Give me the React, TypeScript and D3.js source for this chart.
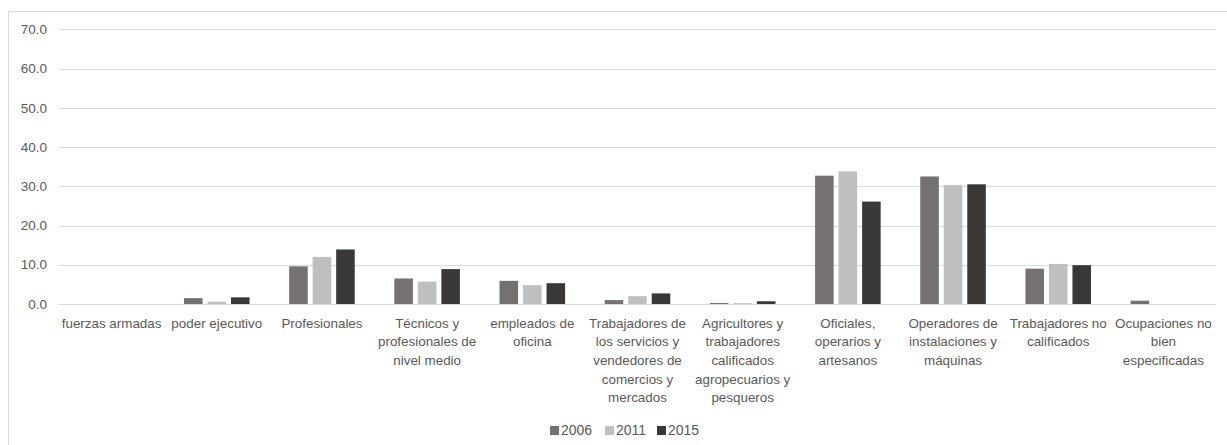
import React from "react";
import * as d3 from "d3";

const categories: string[][] = [
  ["fuerzas armadas"],
  ["poder ejecutivo"],
  ["Profesionales"],
  ["Técnicos y", "profesionales de", "nivel medio"],
  ["empleados de", "oficina"],
  ["Trabajadores de", "los servicios y", "vendedores de", "comercios y", "mercados"],
  ["Agricultores y", "trabajadores", "calificados", "agropecuarios y", "pesqueros"],
  ["Oficiales,", "operarios y", "artesanos"],
  ["Operadores de", "instalaciones y", "máquinas"],
  ["Trabajadores no", "calificados"],
  ["Ocupaciones no", "bien", "especificadas"],
];

const years = ["2006", "2011", "2015"];
const values2006 = [0, 1.5, 9.6, 6.5, 5.9, 1.0, 0.25, 32.7, 32.5, 9.0, 0.85];
const values2011 = [0, 0.6, 12.0, 5.7, 4.8, 2.0, 0.2, 33.8, 30.3, 10.2, 0];
const values2015 = [0, 1.7, 13.9, 8.9, 5.3, 2.7, 0.7, 26.1, 30.5, 9.9, 0];
const yTicks = [0, 10, 20, 30, 40, 50, 60, 70];
const colors = ["#767171", "#BFBFBF", "#3B3838"];

const W = 1227;
const H = 445;
const FONT = "'Liberation Sans', Arial, sans-serif";
const TEXT = "#595959";

export default function App() {
  const series = [values2006, values2011, values2015];
  const catKeys = categories.map((c) => c.join(" "));
  const x0 = d3.scaleBand<string>().domain(catKeys).range([59, 1216]).padding(0);
  const bw = x0.bandwidth();
  const gap = 19.8;
  const x1 = d3.scaleBand<string>().domain(years).range([gap, bw - gap]).paddingInner(0.21);
  const y = d3.scaleLinear().domain([0, 70]).range([304, 29.3]);

  const legendX = [550, 605, 657];

  return (
    <svg
      width={W}
      height={H}
      style={{ position: "absolute", left: 0, top: 0, background: "#fff" }}
      fontFamily={FONT}
    >
      <rect x={8.5} y={11.5} width={1240} height={460} fill="#fff" stroke="#D9D9D9" strokeWidth={1} />
      {yTicks.map((t) => (
        <g key={t}>
          <line x1={59} x2={1216} y1={Math.round(y(t)) + 0.5} y2={Math.round(y(t)) + 0.5} stroke="#D9D9D9" strokeWidth={1} />
          <text x={47} y={y(t)} dy="0.35em" textAnchor="end" fontSize={13.5} fill={TEXT}>
            {t.toFixed(1)}
          </text>
        </g>
      ))}
      {series.map((vals, si) =>
        vals.map((v, ci) => {
          const xx = (x0(catKeys[ci]) as number) + (x1(years[si]) as number);
          return (
            <rect
              key={`${si}-${ci}`}
              x={xx}
              y={y(v)}
              width={x1.bandwidth()}
              height={y(0) - y(v)}
              fill={colors[si]}
            />
          );
        })
      )}
      {categories.map((lines, ci) => {
        const cx = (x0(catKeys[ci]) as number) + bw / 2;
        return (
          <text key={ci} x={cx} y={323} textAnchor="middle" fontSize={13.4} fill={TEXT}>
            {lines.map((l, li) => (
              <tspan key={li} x={cx} y={323 + li * 18.7} dy="0.35em">
                {l}
              </tspan>
            ))}
          </text>
        );
      })}
      {years.map((yr, i) => (
        <g key={yr}>
          <rect x={legendX[i]} y={426} width={9} height={9} fill={colors[i]} />
          <text x={legendX[i] + 11} y={430.5} dy="0.35em" fontSize={14} fill={TEXT}>
            {yr}
          </text>
        </g>
      ))}
    </svg>
  );
}
